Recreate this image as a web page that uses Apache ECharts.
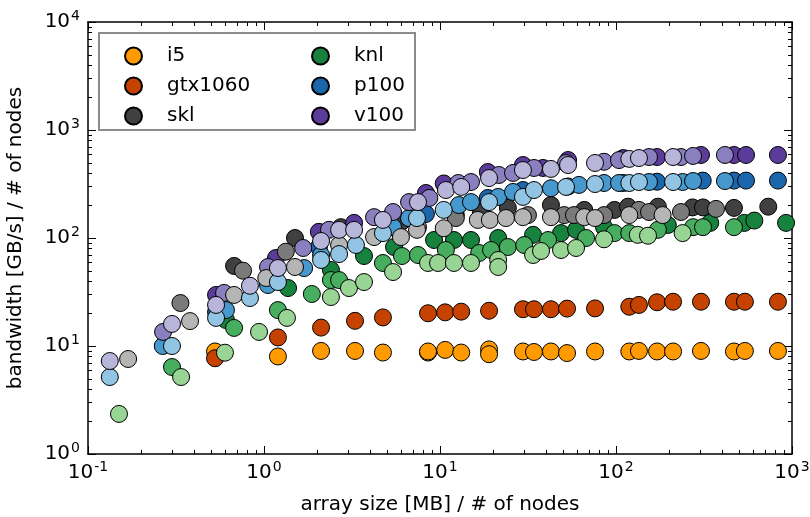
<!DOCTYPE html>
<html><head><meta charset="utf-8">
<script src="https://cdn.jsdelivr.net/npm/echarts@6/dist/echarts.min.js"></script>
<style>html,body{margin:0;padding:0;background:#fff}#c{width:810px;height:517px}</style>
</head><body><div id="c"></div>
<script>
// ---- data: [array size MB / node, bandwidth GB/s / node] ----
const i5 = [[0.527,8.9],[1.20,8.0],[2.11,9.0],[3.29,9.0],[4.74,8.7],[8.55,8.7],[8.55,8.9],[10.7,9.2],[13.2,8.7],[19.0,9.3],[19.0,8.4],[29.6,8.9],[34.2,8.8],[42.7,8.9],[52.7,8.6],[76,8.9],[119,8.9],[135,9.0],[171,8.9],[211,8.9],[304,9.0],[468,8.9],[540,9.0],[832,9.0]];
const gtx1060 = [[0.527,7.7],[1.20,12.0],[2.11,14.8],[3.29,17.1],[4.74,18.4],[8.55,20.1],[10.7,20.5],[13.2,20.8],[19.0,21.2],[29.6,21.9],[34.2,21.9],[42.7,21.9],[52.7,22.2],[76,22.3],[119,23.1],[135,24.0],[171,25.4],[211,25.7],[304,25.7],[468,25.7],[540,25.7],[832,25.7]];
const sklA = [[0.676,55.1],[1.50,100],[2.73,126],[6.0,140],[12.3,163],[17.1,174],[24.3,190],[42.7,202],[66,182],[98,182],[117,195],[173,195],[272,192],[312,192],[468,190],[733,195]];
const sklB = [[0.335,25.0],[0.760,49.8],[1.33,74.7],[7.5,126],[12.3,153],[31.6,163],[50.7,163],[57.7,163],[85.5,163],[135,182],[154,174],[234,174],[370,186]];
const sklC = [[0.169,7.58],[0.380,17.0],[0.676,29.7],[1.03,42.6],[1.50,53.9],[2.67,86.1],[4.22,102],[6.0,102],[7.4,119],[10.5,123],[16.4,147],[19.2,147],[23.7,153],[29.6,156],[42.7,156],[66,156],[76,153],[119,163],[184,163]];
const knlA = [[0.608,17.4],[1.37,34.4],[2.40,50.6],[3.70,68.1],[5.48,82.5],[9.25,95.8],[12.0,95.8],[15.0,95.8],[21.4,100],[33.8,107],[48.7,111],[59.3,119],[85.5,126],[197,132],[343,138],[536,138],[611,145],[925,138]];
const knlB = [[0.300,6.39],[0.676,14.7],[1.20,21.5],[1.87,30.3],[2.40,40.8],[2.67,40.8],[4.74,58.7],[6.08,68.1],[7.5,69.6],[10.8,77.4],[16.7,72.6],[19.5,77.4],[24.3,82.5],[30.1,86.1],[41.1,95.8],[67.6,100],[98,111],[119,111],[173,119],[274,126],[312,126],[468,126]];
const knlC = [[0.150,2.35],[0.338,5.16],[0.60,8.67],[0.937,13.5],[1.35,18.2],[2.40,28.4],[3.04,34.4],[3.70,39.1],[5.41,48.4],[8.55,58.7],[9.75,58.7],[12.0,58.7],[15.0,58.7],[21.4,62.6],[21.4,53.9],[33.8,69.6],[37.5,75.8],[48.7,77.4],[59.3,80.8],[85.5,97.3],[133,107],[152,105],[239,111]];
const p100A = [[0.534,20.6],[1.17,50.6],[2.05,82.5],[8.32,167],[18.7,235],[29.6,278],[53.4,300],[110,323],[171,332],[311,340],[468,340],[548,340],[832,340]];
const p100B = [[0.266,10.0],[0.608,21.5],[1.054,36.7],[1.69,52.7],[2.11,69.6],[5.41,126],[6.67,153],[12.8,202],[15.0,215],[21.4,240],[26.0,267],[42.7,289],[61.6,310],[85.5,323],[104,323],[154,330],[239,330],[274,337],[416,337]];
const p100C = [[0.133,5.16],[0.300,10.0],[0.534,18.2],[0.832,27.8],[1.20,39.1],[2.11,62.6],[2.67,71],[3.33,86.1],[4.74,111],[7.4,153],[10.5,182],[19.0,215],[29.6,240],[34.2,278],[52.0,297],[76.0,316],[119,323],[135,330],[211,330]];
const v100A = [[0.534,29.7],[1.17,65.3],[2.05,114],[3.25,138],[8.32,261],[10.5,320],[18.7,408],[29.6,474],[38.5,445],[53.4,527],[110,550],[171,562],[304,587],[468,587],[548,587],[832,587]];
const v100B = [[0.267,13.5],[0.593,31.0],[1.054,53.9],[1.67,80.8],[2.34,119],[4.22,156],[5.41,174],[6.67,215],[8.7,235],[12.7,323],[15.0,330],[21.6,383],[26.0,400],[34.2,445],[52.0,495],[85.5,508],[104,527],[154,562],[234,562],[274,575],[416,587]];
const v100C = [[0.133,7.26],[0.300,16.0],[0.534,24.0],[0.832,36.1],[1.20,52.7],[2.11,93.8],[2.67,119],[3.25,119],[4.74,147],[7.50,215],[10.8,278],[13.2,297],[19.0,359],[29.6,426],[42.7,436],[53.4,474],[76.0,495],[119,540],[135,550],[211,562]];

const legendCol1 = ['i5','gtx1060','skl'];
const legendCol2 = ['knl','p100','v100'];
const xMin = 0.1, xMax = 1000, yMin = 1, yMax = 10000;
const minorMultipliers = [2,3,4,5,6,7,8,9];
const xDecades = [0.1,1,10,100];
const yDecades = [1,10,100,1000];

const FONT = 'DejaVu Sans';
const colors = {
  i5:'#ff9a00', gtx1060:'#c64200',
  skl:['#404040','#7a7a7a','#b5b5b5'],
  knl:['#17813e','#47ae60','#98d594'],
  p100:['#1b67ae','#4698cd','#92c5e4'],
  v100:['#5c3c9b','#8a80c0','#b8b5db']
};

function sc(name, data, color){
  return {type:'scatter', name:name, data:data, symbol:'circle', symbolSize:17,
    itemStyle:{color:color, borderColor:'#000', borderWidth:1, opacity:1},
    emphasis:{disabled:true}, z:2};
}
const series = [
  sc('i5', i5, colors.i5),
  sc('gtx1060', gtx1060, colors.gtx1060),
  sc('skl', sklA, colors.skl[0]),
  sc('knl', knlA, colors.knl[0]),
  sc('p100', p100A, colors.p100[0]),
  sc('v100', v100A, colors.v100[0]),
  sc('skl 2', sklB, colors.skl[1]),
  sc('knl 2', knlB, colors.knl[1]),
  sc('p100 2', p100B, colors.p100[1]),
  sc('v100 2', v100B, colors.v100[1]),
  sc('skl 4', sklC, colors.skl[2]),
  sc('knl 4', knlC, colors.knl[2]),
  sc('p100 4', p100C, colors.p100[2]),
  sc('v100 4', v100C, colors.v100[2])
];

const minorData = [];
xDecades.forEach(d => minorMultipliers.forEach(m => minorData.push([m*d, yMin, 0])));
yDecades.forEach(d => minorMultipliers.forEach(m => minorData.push([xMin, m*d, 1])));
series.push({
  type:'custom', name:'minor', silent:true, clip:false, z:5,
  data:minorData, encode:{x:0,y:1},
  renderItem:function(params, api){
    const kind = api.value(2);
    const st = {stroke:'#000', lineWidth:1};
    if (kind === 0){
      const v = api.value(0);
      const b = api.coord([v, yMin]), t = api.coord([v, yMax]);
      const x = Math.round(b[0]) + 0.5;
      return {type:'group', children:[
        {type:'line', shape:{x1:x,y1:b[1],x2:x,y2:b[1]-4}, style:st},
        {type:'line', shape:{x1:x,y1:t[1],x2:x,y2:t[1]+4}, style:st}]};
    } else {
      const v = api.value(1);
      const l = api.coord([xMin, v]), r = api.coord([xMax, v]);
      const y = Math.round(l[1]) + 0.5;
      return {type:'group', children:[
        {type:'line', shape:{x1:l[0],y1:y,x2:l[0]+4,y2:y}, style:st},
        {type:'line', shape:{x1:r[0],y1:y,x2:r[0]-4,y2:y}, style:st}]};
    }
  }
});

function sup(v){
  const e = Math.round(Math.log10(v));
  return '{b|10}{s|' + e + '}';
}
const rich = {
  b:{fontSize:20, fontFamily:FONT, color:'#000', lineHeight:26},
  s:{fontSize:14, fontFamily:FONT, color:'#000', verticalAlign:'top', lineHeight:26, padding:[0,0,0,1]}
};
const axisLine = {show:true, onZero:false, lineStyle:{color:'#000', width:1.5}};
const tick = {show:true, inside:true, length:8, lineStyle:{color:'#000', width:1}};
const nameStyle = {fontSize:20, fontFamily:FONT, color:'#000'};

const option = {
  animation:false,
  backgroundColor:'#fff',
  grid:{left:88, right:18, top:22, bottom:63, containLabel:false, outerBoundsMode:'none'},
  xAxis:[
    {type:'log', logBase:10, min:xMin, max:xMax, splitNumber:4, position:'bottom',
     axisLine:axisLine, axisTick:tick, splitLine:{show:false},
     axisLabel:{formatter:sup, rich:rich, margin:6, showMinLabel:true, showMaxLabel:true},
     name:'array size [MB] / # of nodes', nameLocation:'middle', nameGap:41, nameTextStyle:nameStyle},
    {type:'log', logBase:10, min:xMin, max:xMax, splitNumber:4, position:'top',
     axisLine:axisLine, axisTick:tick, splitLine:{show:false}, axisLabel:{show:false}}
  ],
  yAxis:[
    {type:'log', logBase:10, min:yMin, max:yMax, splitNumber:4, position:'left',
     axisLine:axisLine, axisTick:tick, splitLine:{show:false},
     axisLabel:{formatter:sup, rich:rich, margin:8, showMinLabel:true, showMaxLabel:true},
     name:'bandwidth [GB/s] / # of nodes', nameLocation:'middle', nameGap:62, nameTextStyle:nameStyle},
    {type:'log', logBase:10, min:yMin, max:yMax, splitNumber:4, position:'right',
     axisLine:axisLine, axisTick:tick, splitLine:{show:false}, axisLabel:{show:false}}
  ],
  legend:[
    {data:legendCol1, orient:'vertical', left:119, top:40, itemWidth:17, itemHeight:17, itemGap:8,
     icon:'circle', selectedMode:false, z:6,
     textStyle:{fontSize:20, fontFamily:FONT, color:'#000', padding:[0,0,0,20], lineHeight:22}},
    {data:legendCol2, orient:'vertical', left:306, top:40, itemWidth:17, itemHeight:17, itemGap:8,
     icon:'circle', selectedMode:false, z:6,
     textStyle:{fontSize:20, fontFamily:FONT, color:'#000', padding:[0,0,0,20], lineHeight:22}}
  ],
  graphic:[{type:'rect', shape:{x:99, y:33, width:316, height:97}, style:{fill:'#fff', stroke:'#8c8c8c', lineWidth:2}, z:5, silent:true}],
  series:series
};
const chart = echarts.init(document.getElementById('c'), null, {renderer:'canvas'});
chart.setOption(option);
</script>
</body></html>
